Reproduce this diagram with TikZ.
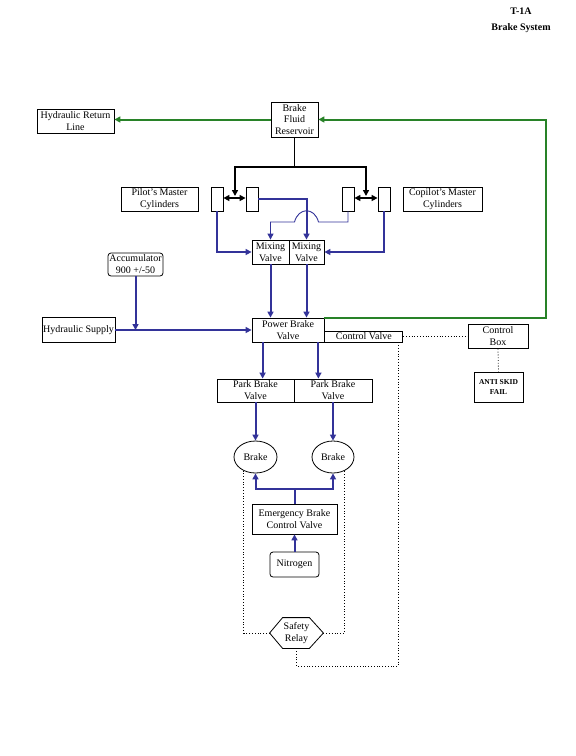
\documentclass[tikz,border=0pt]{standalone}
\usepackage{fontspec}
\setmainfont{Liberation Serif}
\usetikzlibrary{arrows.meta,shapes.geometric}
\definecolor{hblue}{RGB}{51,51,153}
\definecolor{rgreen}{RGB}{40,130,40}
\tikzset{
  part/.style={draw,rectangle,inner sep=0pt,align=center,line width=0.8pt,font=\fontsize{10}{12}\selectfont},
  cyl/.style={draw,rectangle,inner sep=0pt,line width=0.8pt,minimum width=12pt,minimum height=24pt},
  fluid/.style={hblue,line width=2pt},
  retn/.style={rgreen,line width=2pt},
  feed/.style={black,line width=1.6pt},
  sig/.style={dotted,line width=0.8pt},
}
\begin{document}
\begin{tikzpicture}[x=1pt,y=-1pt,>={Triangle[length=6pt,width=6pt]}]
    \useasboundingbox (0,0) rectangle (576,756);
    %% title
    \node[font=\bfseries\fontsize{10}{12}\selectfont] (ttl) at (521,11) {T-1A};
    \node[font=\bfseries\fontsize{10}{12}\selectfont] (sub) at (521,28) {Brake System};
    %% boxes
    \node[part,minimum width=77pt,minimum height=24pt] (retline) at (75.5,121) {Hydraulic Return\\Line};
    \node[part,minimum width=47pt,minimum height=35pt,font=\fontsize{10}{11.5}\selectfont] (resv) at (294.5,119.5) {Brake\\Fluid\\Reservoir};
    \node[part,minimum width=77pt,minimum height=24pt] (pilot) at (159.5,199) {Pilot's Master\\Cylinders};
    \node[part,minimum width=79pt,minimum height=24pt] (copilot) at (442.5,199) {Copilot's Master\\Cylinders};
    \node[cyl] (pc1) at (217,199) {};
    \node[cyl] (pc2) at (252,199) {};
    \node[cyl] (cc1) at (348,199) {};
    \node[cyl] (cc2) at (384,199) {};
    \node[part,minimum width=37pt,minimum height=24pt] (mixl) at (270.5,252) {Mixing\\Valve};
    \node[part,minimum width=35pt,minimum height=24pt] (mixr) at (306.5,252) {Mixing\\Valve};
    \node[part,rounded corners=3pt,minimum width=55pt,minimum height=23pt] (accum) at (135.5,264.5) {Accumulator\\900 +/-50};
    \node[part,minimum width=73pt,minimum height=25pt] (supply) at (78.5,330) {Hydraulic Supply};
    \node[part,minimum width=72pt,minimum height=24pt] (pbv) at (288,330) {Power Brake\\Valve};
    \node[part,minimum width=78pt,minimum height=11pt,anchor=south west] (cvalve) at (pbv.south east) {Control Valve};
    \node[part,minimum width=60pt,minimum height=24pt] (cbox) at (498,336.5) {Control\\Box};
    \node[part,minimum width=49pt,minimum height=30pt,font=\bfseries\fontsize{7.5}{10}\selectfont] (skid) at (498.5,387) {ANTI SKID\\FAIL};
    \node[part,minimum width=77pt,minimum height=23pt] (parkl) at (255.5,390.5) {Park Brake\\Valve};
    \node[part,minimum width=78pt,minimum height=23pt] (parkr) at (333,390.5) {Park Brake\\Valve};
    \node[part,ellipse,minimum width=43pt,minimum height=32pt] (brakel) at (255.5,457) {Brake};
    \node[part,ellipse,minimum width=42pt,minimum height=32pt] (braker) at (333,457) {Brake};
    \node[part,minimum width=85pt,minimum height=30pt] (ebcv) at (294.5,519) {Emergency Brake\\Control Valve};
    \node[part,rounded corners=3pt,minimum width=49pt,minimum height=25pt] (nitro) at (294.5,564.5) {Nitrogen};
    \node[part,draw=none,minimum width=53pt,minimum height=30pt] (relay) at (296.5,633) {Safety\\Relay};
    \draw[line width=0.8pt] (relay.west) -- ([xshift=13pt]relay.north west) -- ([xshift=-14pt]relay.north east)
        -- (relay.east) -- ([xshift=-14pt]relay.south east) -- ([xshift=13pt]relay.south west) -- cycle;
    %% return lines
    \coordinate (gcorner) at (546,220);
    \draw[retn,->] (resv.west) -- (resv.west -| retline.east);
    \draw[retn,->] (pbv.north east) -| (gcorner) |- (resv.east);
    %% reservoir to master cylinders
    \coordinate (split) at (294.5,167);
    \coordinate (pj) at (235,198);
    \coordinate (cj) at (366,198);
    \draw[feed] (resv.south) -- (split);
    \draw[feed,->,shorten >=2pt] (split) -| (pj);
    \draw[feed,->,shorten >=2pt] (split) -| (cj);
    \draw[feed,<->] (pc1.east |- pj) -- (pc2.west |- pj);
    \draw[feed,<->] (cc1.east |- cj) -- (cc2.west |- cj);
    %% master cylinders to mixing valves
    \draw[fluid,->] (pc1.south) |- (mixl.west);
    \draw[fluid,->] (pc2.east) -| (mixr.north);
    \draw[fluid,->] (cc2.south) |- (mixr.east);
    \coordinate (hop) at (306.5,222);
    \draw[hblue,line width=0.9pt,->] (cc1.south) |- ([xshift=12pt]hop)
        .. controls ([xshift=8pt,yshift=15pt]hop) and ([xshift=-8pt,yshift=15pt]hop) .. ([xshift=-12pt]hop) -| (mixl.north);
    %% into power brake valve
    \draw[fluid,->] (mixl.south) -- (mixl.south |- pbv.north);
    \draw[fluid,->] (mixr.south) -- (mixr.south |- pbv.north);
    \draw[fluid,->] (supply.east) -- (pbv.west);
    \draw[fluid,->] (accum.south) -- (accum.south |- pbv.west);
    %% down to the brakes
    \draw[fluid,->] ([xshift=11pt]pbv.south west) -- ([xshift=11pt]pbv.south west |- parkl.north);
    \draw[fluid,->] ([xshift=-6pt]pbv.south east) -- ([xshift=-6pt]pbv.south east |- parkr.north);
    \draw[fluid,->] (parkl.south) -- (brakel.north);
    \draw[fluid,->] (parkr.south) -- (braker.north);
    \coordinate (tee) at (294.5,489);
    \draw[fluid] (ebcv.north) -- (tee);
    \draw[fluid,->] (tee) -| (brakel.south);
    \draw[fluid,->] (tee) -| (braker.south);
    \draw[fluid,->] (nitro.north) -- (ebcv.south);
    %% anti skid wiring
    \coordinate (rbot) at (296.5,666);
    \draw[sig] (cvalve.east) -- (cbox.west);
    \draw[sig] (cbox.south) -- (skid.north);
    \draw[sig] ([xshift=-5pt]cvalve.south east) |- (rbot) -- (relay.south);
    \draw[sig] (relay.west) -| (brakel.-130);
    \draw[sig] (relay.east) -| (braker.-50);
\end{tikzpicture}
\end{document}
